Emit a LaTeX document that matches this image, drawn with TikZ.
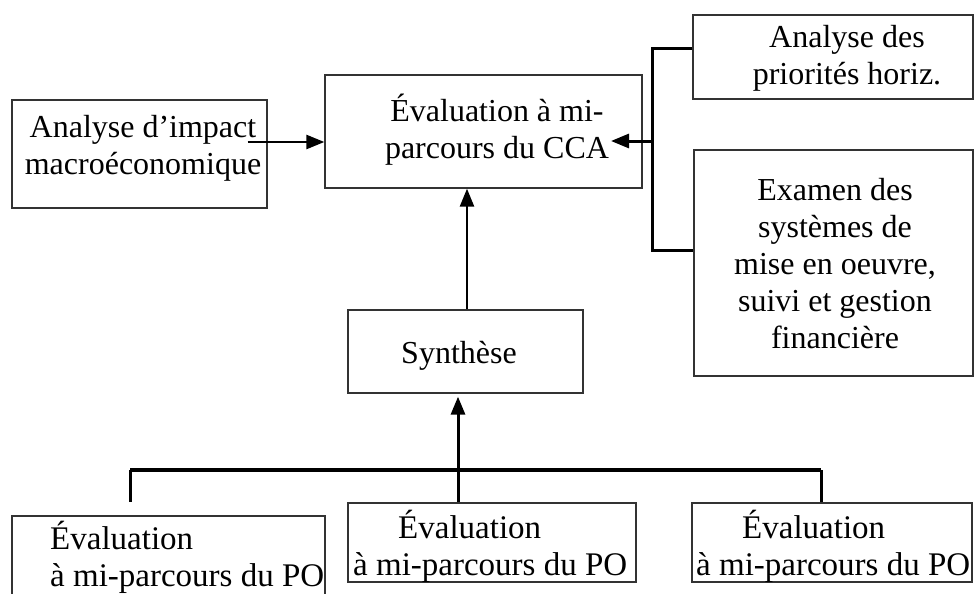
\documentclass[tikz,border=0pt]{standalone}
\usepackage{fontspec}
\setmainfont{Liberation Serif}
\usetikzlibrary{arrows.meta,calc}
\begin{document}
\begin{tikzpicture}[x=1pt,y=-1pt,
  box/.style={draw=black!80, line width=1.3pt, inner sep=0pt, rectangle},
  txt/.style={inner sep=0pt, font=\fontsize{32}{37}\selectfont, align=center},
  btxt/.style={inner sep=0pt, font=\fontsize{33}{37}\selectfont, align=left, anchor=west},
  conn/.style={line width=3pt, draw=black},
  arr/.style={conn, -{Triangle[length=18pt,width=14pt]}},
]
\useasboundingbox (0,0) rectangle (975,594);
% boxes
\node[box, minimum width=255pt, minimum height=108pt] (impact) at (139.5,154) {};
\node[box, minimum width=317pt, minimum height=113pt] (cca) at (483.5,131.5) {};
\node[box, minimum width=280pt, minimum height=84pt] (prior) at (833,57) {};
\node[box, minimum width=279pt, minimum height=226pt] (examen) at (833.5,263) {};
\node[box, minimum width=235pt, minimum height=83pt] (synth) at (465.5,351.5) {};
\node[box, minimum width=313pt, minimum height=110pt] (b1) at (168.5,571) {};
\node[box, minimum width=288pt, minimum height=79pt] (b2) at (492,542.5) {};
\node[box, minimum width=280pt, minimum height=79pt] (b3) at (832,542.5) {};
% texts
\node[txt] (impactT) at (143,148) {Analyse d’impact\\macroéconomique};
\node[txt] (ccaT) at (497,130) {Évaluation à mi-\\parcours du CCA};
\node[txt] (priorT) at (847,58) {Analyse des\\priorités horiz.};
\node[txt] (examenT) at (835,264) {Examen des\\systèmes de\\mise en oeuvre,\\suivi et gestion\\financière};
\node[txt] (synthT) at (459,356) {Synthèse};
\node[btxt] (b1T) at (50,557) {Évaluation\\à mi-parcours du PO};
\node[btxt] (b2T) at (353,546) {\hspace*{45pt}Évaluation\\à mi-parcours du PO};
\node[btxt] (b3T) at (696,546) {\hspace*{46pt}Évaluation\\à mi-parcours du PO};
% connectors
\coordinate (a1) at ($(impact.east)+(-20,-12)$);
\draw[arr, line width=2.5pt] (a1) -- (a1 -| cca.west);
\coordinate (br) at (652,141);
\draw[conn] (prior.west |- 0,49) -| (br) |- (examen.west |- 0,250);
\draw[arr] (br) -- ++(-41,0);
\draw[arr, line width=2.5pt] (synth.north -| 467,0) -- (cca.south -| 467,0);
\coordinate (jc) at (458,470);
\draw[arr] (jc |- b2.north) -- ([yshift=-3pt]jc |- synth.south);
\draw[conn, line width=4pt] (130,470) -- (821,470);
\draw[conn] (130,470) -- (130,502);
\draw[conn] (821,470) -- (821 ,0 |- b3.north);
\end{tikzpicture}
\end{document}
